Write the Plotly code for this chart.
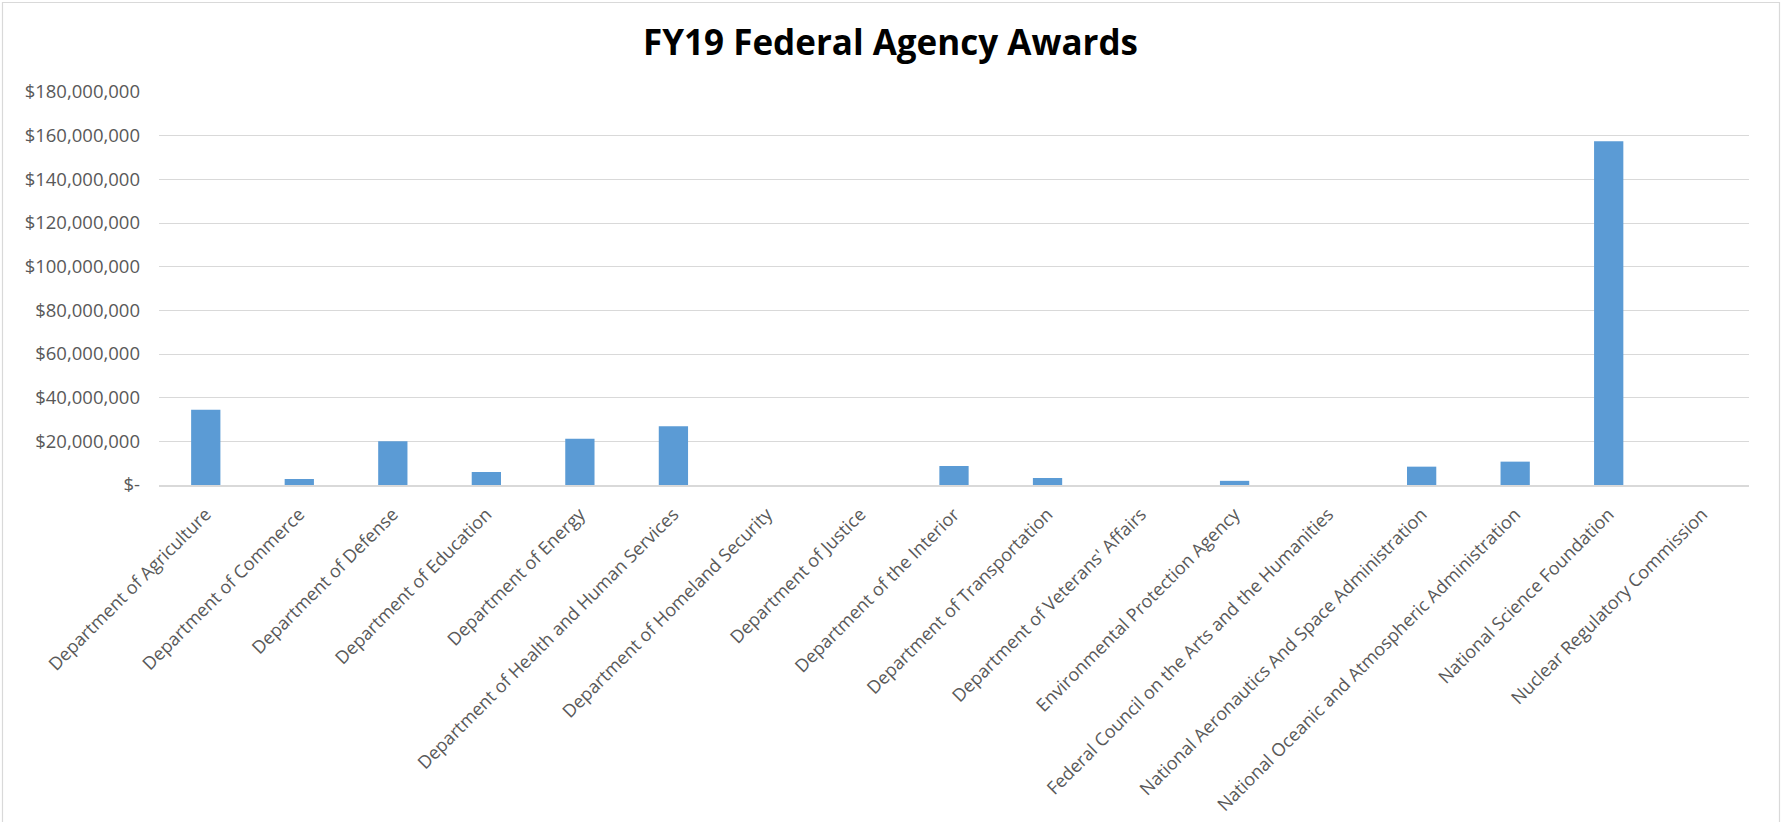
import plotly.graph_objects as go

agencies = [
    "Department of Agriculture",
    "Department of Commerce",
    "Department of Defense",
    "Department of Education",
    "Department of Energy",
    "Department of Health and Human Services",
    "Department of Homeland Security",
    "Department of Justice",
    "Department of the Interior",
    "Department of Transportation",
    "Department of Veterans' Affairs",
    "Environmental Protection Agency",
    "Federal Council on the Arts and the Humanities",
    "National Aeronautics And Space Administration",
    "National Oceanic and Atmospheric Administration",
    "National Science Foundation",
    "Nuclear Regulatory Commission",
]
awards = [
    34_500_000, 2_750_000, 20_000_000, 5_950_000, 21_200_000, 26_900_000,
    0, 0, 8_700_000, 3_200_000, 0, 1_900_000, 0, 8_400_000, 10_700_000,
    157_400_000, 0,
]
tick_values = [0, 20e6, 40e6, 60e6, 80e6, 100e6, 120e6, 140e6, 160e6, 180e6]
tick_labels = ["$-", "$20,000,000", "$40,000,000", "$60,000,000", "$80,000,000",
               "$100,000,000", "$120,000,000", "$140,000,000", "$160,000,000",
               "$180,000,000"]

W, H = 1781, 822
L, R, T, B = 159, 32, 92, 337
pw, ph = W - L - R, H - T - B

fig = go.Figure(go.Bar(
    x=agencies, y=awards,
    marker=dict(color="#5B9BD5", line=dict(width=0)),
))

font = "Open Sans, Lato, sans-serif"
fig.update_layout(
    width=W, height=H,
    margin=dict(l=L, r=R, t=T, b=B, pad=0),
    paper_bgcolor="white", plot_bgcolor="white",
    bargap=0.687,
    showlegend=False,
    title=dict(text="<b>FY19 Federal Agency Awards</b>", x=0.5, xanchor="center",
               y=1 - 43 / H, yanchor="middle",
               font=dict(family=font, size=35, color="#000000")),
    font=dict(family=font, size=18, color="#595959"),
)
fig.update_yaxes(
    range=[0, 180e6], tickvals=tick_values, ticktext=tick_labels,
    showgrid=True, gridcolor="#D9D9D9", gridwidth=1.3,
    zeroline=False, showline=False, ticks="", ticklabelstandoff=18,
    automargin=False,
    tickfont=dict(family=font, size=18.5, color="#595959"),
)
fig.update_xaxes(
    tickangle=-45, showline=True, linecolor="#D9D9D9", linewidth=1.5,
    ticks="", showgrid=False, ticklabelstandoff=10, automargin=False,
    tickfont=dict(family=font, size=18, color="#595959"),
)
fig.add_shape(type="rect", xref="paper", yref="paper",
              x0=(2.5 - L) / pw, x1=(W - 1.5 - L) / pw,
              y0=-(B + 20) / ph, y1=(H - B - 2.5) / ph,
              line=dict(color="#D9D9D9", width=1.2), layer="below")

fig.write_html("out.html")
